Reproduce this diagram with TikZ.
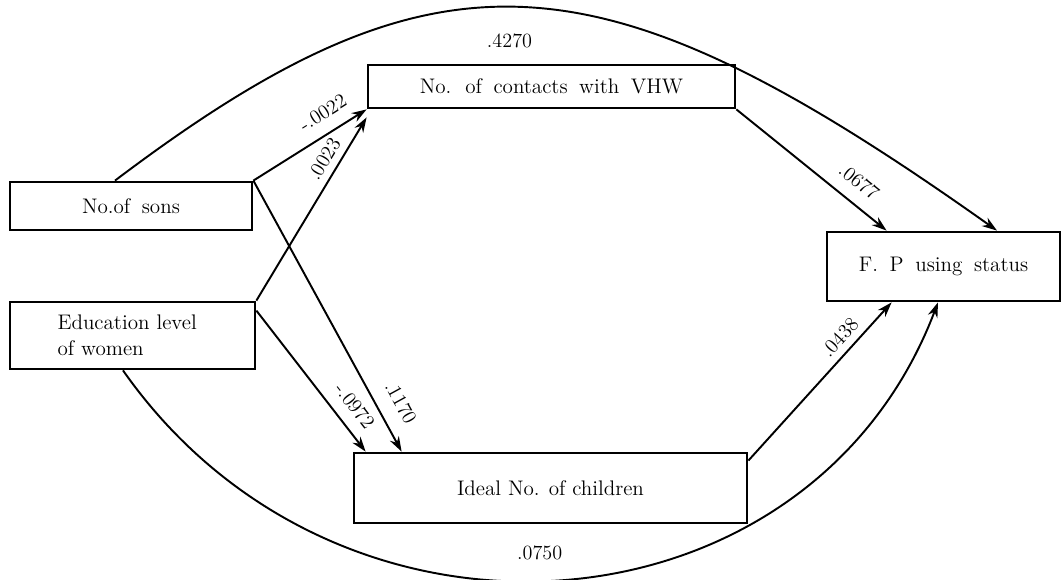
\documentclass[tikz,border=0pt]{standalone}
\newcommand\boxfont{\fontsize{12}{15}\selectfont\spaceskip 0.55em\relax}
\usetikzlibrary{arrows.meta}
\tikzset{box/.style={draw, line width=1.6pt, inner sep=0pt, minimum height=0.96cm, font=\boxfont}}
\tikzset{effect/.style={-{Stealth[length=0.3cm, width=0.2cm]}, line width=1.1pt}}
\tikzset{coef/.style={font=\fontsize{11.5}{13}\selectfont, inner sep=0.5pt}}

\begin{document}
\begin{tikzpicture}[x=0.02cm, y=-0.02cm]
\useasboundingbox (0,0) rectangle (1063,580);

\node[box, minimum width=7.34cm, minimum height=0.86cm] (vhw) at (551.5,86.5) {No. of contacts with VHW};
\node[box, minimum width=4.84cm] (sons) at (131,206) {No.of sons};
\node[box, text width=3.0cm, inner xsep=0.95cm, minimum height=1.34cm, align=left] (edu) at (132.5,335.5) {Education level\\of women};
\node[box, minimum width=4.66cm, minimum height=1.38cm] (fp) at (943.5,266.5) {F. P using status};
\node[box, minimum width=7.86cm, minimum height=1.4cm, font=\fontsize{12}{15}\selectfont] (ideal) at (550.5,488) {Ideal No. of children};

\draw[effect] (sons.north east) -- node[coef, sloped, pos=0.71, above=2.3mm] {-.0022} (vhw.south west);
\draw[effect] (edu.north east) -- node[coef, sloped, pos=0.73, above=1.2mm] {.0023} ([yshift=-0.16cm]vhw.south west);
\draw[effect] (sons.north east) -- node[coef, sloped, pos=0.86, above=2.8mm] {.1170} ([xshift=0.98cm]ideal.north west);
\draw[effect] ([yshift=-0.2cm]edu.north east) -- node[coef, sloped, pos=0.76, above=2.1mm] {-.0972} ([xshift=0.26cm]ideal.north west);
\draw[effect] (vhw.south east) -- node[coef, sloped, pos=0.73, above=2.4mm] {.0677} ([xshift=1.22cm]fp.north west);
\draw[effect] ([yshift=-0.18cm]ideal.north east) -- node[coef, sloped, pos=0.715, above=1.2mm] {.0438} ([xshift=1.32cm]fp.south west);

\draw[effect] ([xshift=-0.32cm]sons.north) .. controls (440,-65) and (600,-51) .. node[coef, pos=0.475, below=5mm] {.4270} ([xshift=1.07cm]fp.north);
\draw[effect] ([xshift=-0.19cm]edu.south) .. controls (340,680) and (810,640) .. node[coef, pos=0.475, above=3.7mm] {.0750} ([xshift=-0.11cm]fp.south);

\end{tikzpicture}
\end{document}
